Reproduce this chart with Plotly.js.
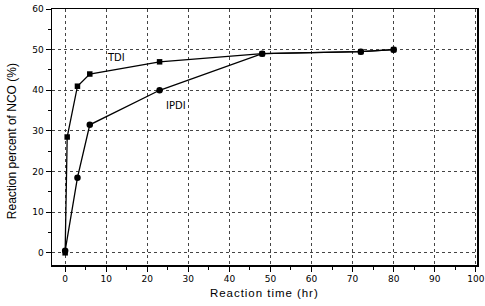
<!DOCTYPE html>
<html>
<head>
<meta charset="utf-8">
<script src="https://cdn.plot.ly/plotly-3.0.1.min.js"></script>
<style>html,body{margin:0;padding:0;background:#fff;}#chart{width:485px;height:306px;}</style>
</head>
<body>
<div id="chart"></div>
<script>
const tdiTime = [0, 0.5, 3, 6, 23, 48, 72, 80];
const tdiValues = [0, 28.5, 41, 44, 47, 49, 49.5, 50];
const ipdiTime = [0, 3, 6, 23, 48, 72, 80];
const ipdiValues = [0.5, 18.5, 31.5, 40, 49, 49.5, 50];
const xTicks = [0, 10, 20, 30, 40, 50, 60, 70, 80, 90, 100];
const yTicks = [0, 10, 20, 30, 40, 50, 60];
const xTitle = 'Reaction time (hr)';
const yTitle = 'Reaction percent of NCO (%)';

const traces = [
  {x: tdiTime, y: tdiValues, mode: 'lines+markers', name: 'TDI',
   line: {color: '#000', width: 1.3}, marker: {symbol: 'square', size: 5.5, color: '#000'}},
  {x: ipdiTime, y: ipdiValues, mode: 'lines+markers', name: 'IPDI',
   line: {color: '#000', width: 1.3}, marker: {symbol: 'circle', size: 6.5, color: '#000'}}
];

const axisCommon = {
  showline: true, linecolor: '#000', linewidth: 1.5, mirror: true,
  ticks: 'outside', ticklen: 5, tickwidth: 1, tickcolor: '#000',
  showgrid: true, gridcolor: '#444', griddash: 'dot', gridwidth: 1,
  zeroline: false,
  tickfont: {family: 'DejaVu Sans', size: 9, color: '#000'}
};

const spaced = s => s.split('').join('\u200A');

const layout = {
  width: 485, height: 306,
  margin: {l: 52, r: 8, t: 9, b: 41},
  paper_bgcolor: '#fff', plot_bgcolor: '#fff',
  showlegend: false,
  xaxis: Object.assign({}, axisCommon, {
    range: [-3.2, 100.3], tickvals: xTicks, ticktext: xTicks.map(String),
    minor: {ticks: 'outside', ticklen: 3, tickcolor: '#000', dtick: 5, tick0: 0, showgrid: false}
  }),
  yaxis: Object.assign({}, axisCommon, {
    range: [-3, 60], tickvals: yTicks, ticktext: yTicks.map(String),
    minor: {ticks: 'outside', ticklen: 3, tickcolor: '#000', dtick: 5, tick0: 0, showgrid: false}
  }),
  annotations: [
    {x: 12.4, y: 48.1, text: 'TDI', showarrow: false, font: {family: 'DejaVu Sans', size: 10, color: '#000'}},
    {x: 27, y: 36.3, text: 'IPDI', showarrow: false, font: {family: 'DejaVu Sans', size: 10, color: '#000'}},
    {xref: 'paper', yref: 'paper', x: 0.499, y: -0.109, text: spaced(xTitle), showarrow: false,
     xanchor: 'center', yanchor: 'middle', font: {family: 'Liberation Sans', size: 11.5, color: '#000'}},
    {xref: 'paper', yref: 'paper', x: -0.094, y: 0.484, text: yTitle, textangle: -90, showarrow: false,
     xanchor: 'center', yanchor: 'middle', font: {family: 'Liberation Sans', size: 12, color: '#000'}}
  ]
};

Plotly.newPlot('chart', traces, layout, {displayModeBar: false, staticPlot: true});
</script>
</body>
</html>
